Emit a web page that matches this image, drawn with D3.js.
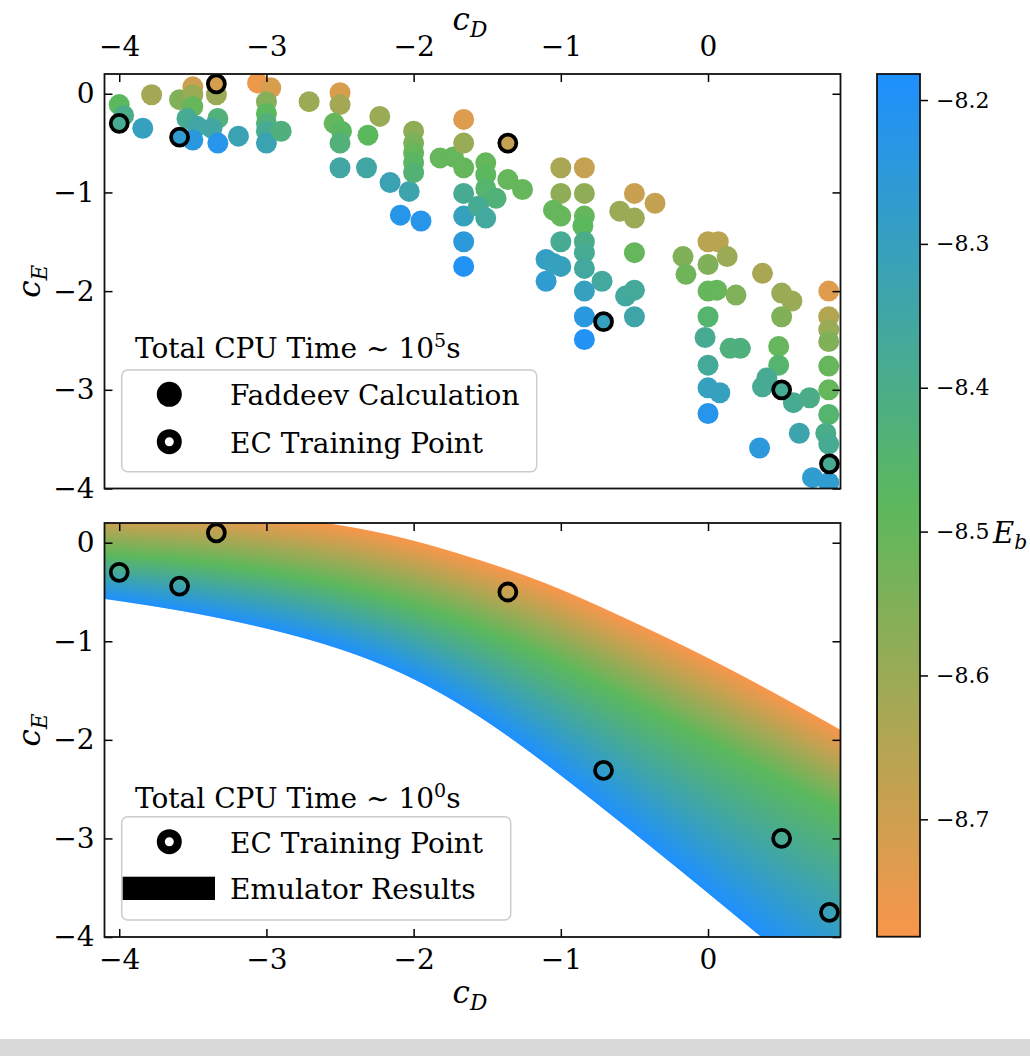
<!DOCTYPE html>
<html><head><meta charset="utf-8">
<script src="https://cdn.jsdelivr.net/npm/d3@7"></script>
<style>body{margin:0;background:#fff}</style>
</head><body>
<script>
// ---------------- data ----------------
const fadCD = [-4.00,-3.97,-3.84,-3.78,-3.59,-3.50,-3.50,-3.50,-3.54,-3.47,-3.50,-3.34,-3.33,-3.37,-3.33,-3.19,
  -3.06,-2.97,-3.00,-3.00,-3.00,-3.00,-3.00,-2.90,-2.71,-2.50,-2.50,-2.54,-2.49,-2.50,-2.50,-2.32,-2.31,-2.23,
  -2.16,-2.03,-2.09,-1.95,-2.00,-2.00,-2.00,-2.00,-2.00,-1.82,-1.73,-1.66,-1.66,-1.66,-1.66,-1.66,-1.66,-1.66,
  -1.51,-1.51,-1.51,-1.44,-1.56,-1.51,-1.36,-1.26,-1.00,-0.84,-1.00,-0.84,-1.05,-1.00,-0.84,-0.85,-1.00,-0.84,
  -1.10,-1.00,-0.84,-0.50,-0.36,-0.60,-0.50,-0.50,-0.17,0.00,0.07,0.00,0.13,0.37,-1.10,-1.05,-0.84,-0.72,-0.84,
  -0.84,-0.84,-0.56,-0.50,-0.50,-0.15,0.00,0.06,0.00,0.19,-0.02,0.15,0.22,0.00,0.00,0.08,0.00,0.50,0.57,0.50,
  0.48,0.48,0.40,0.37,0.58,0.69,0.62,0.35,0.82,0.82,0.82,0.82,0.82,0.82,0.82,0.80,0.82,0.71,0.82];
const fadCE = [-0.11,-0.22,-0.35,-0.01,-0.06,0.07,-0.01,-0.13,-0.25,-0.33,-0.47,-0.01,-0.25,-0.35,-0.50,-0.43,
  0.11,0.06,-0.08,-0.20,-0.30,-0.38,-0.50,-0.38,-0.08,0.01,-0.11,-0.30,-0.38,-0.50,-0.75,-0.75,-0.42,-0.23,
  -0.90,-0.99,-1.23,-1.29,-0.38,-0.50,-0.60,-0.70,-0.80,-0.65,-0.64,-0.26,-0.50,-0.75,-1.01,-1.24,-1.50,-1.75,
  -0.70,-0.82,-0.96,-1.06,-1.14,-1.26,-0.87,-0.97,-0.75,-0.75,-1.01,-1.01,-1.18,-1.24,-1.24,-1.34,-1.50,-1.50,
  -1.68,-1.75,-1.61,-1.01,-1.11,-1.19,-1.26,-1.61,-1.65,-1.50,-1.50,-1.73,-1.65,-1.82,-1.90,-1.72,-1.77,-1.90,-2.00,
  -2.26,-2.49,-2.05,-1.99,-2.26,-1.83,-2.00,-1.99,-2.26,-2.04,-2.47,-2.58,-2.58,-2.75,-2.98,-3.03,-3.24,-2.02,-2.10,-2.26,
  -2.56,-2.75,-2.88,-2.97,-3.13,-3.08,-3.44,-3.59,-2.00,-2.26,-2.39,-2.51,-2.76,-3.00,-3.25,-3.44,-3.55,-3.89,-3.94];
const fadEb = [-8.48,-8.40,-8.30,-8.62,-8.55,-8.70,-8.60,-8.50,-8.38,-8.35,-8.24,-8.60,-8.43,-8.35,-8.22,-8.32,
  -8.76,-8.72,-8.56,-8.48,-8.43,-8.38,-8.32,-8.42,-8.60,-8.72,-8.62,-8.50,-8.47,-8.43,-8.35,-8.35,-8.48,-8.60,
  -8.32,-8.33,-8.22,-8.22,-8.58,-8.54,-8.50,-8.47,-8.44,-8.50,-8.50,-8.73,-8.60,-8.50,-8.38,-8.30,-8.25,-8.20,
  -8.50,-8.48,-8.45,-8.43,-8.38,-8.36,-8.50,-8.50,-8.63,-8.68,-8.58,-8.58,-8.50,-8.50,-8.50,-8.48,-8.38,-8.40,
  -8.29,-8.31,-8.38,-8.69,-8.68,-8.60,-8.60,-8.50,-8.55,-8.66,-8.66,-8.55,-8.60,-8.63,-8.27,-8.30,-8.36,-8.36,-8.30,
  -8.24,-8.20,-8.36,-8.37,-8.34,-8.52,-8.50,-8.50,-8.45,-8.55,-8.38,-8.42,-8.42,-8.37,-8.30,-8.30,-8.22,-8.60,-8.60,-8.55,
  -8.50,-8.45,-8.38,-8.38,-8.38,-8.40,-8.33,-8.25,-8.73,-8.65,-8.60,-8.55,-8.50,-8.50,-8.45,-8.40,-8.38,-8.27,-8.27];

const ecCD = [-4.00,-3.59,-3.34,-1.36,-0.71,0.50,0.825];
const ecCE = [-0.30,-0.44,0.10,-0.50,-2.31,-3.00,-3.75];
const ecEb = [-8.38,-8.27,-8.71,-8.68,-8.30,-8.38,-8.38];

// emulator band: cE where E_b = min (upper edge), mid (green), max (lower edge)
const emuCD    = [-4.1,-3.6,-3.1,-2.6,-2.1,-1.6,-1.1,-0.6,-0.1,0.4,0.9];
const emuUpper = [0.35,0.335,0.29,0.21,0.07,-0.15,-0.40,-0.74,-1.09,-1.48,-1.90];
const emuMid   = [-0.12,-0.17,-0.26,-0.39,-0.58,-0.83,-1.15,-1.54,-1.94,-2.33,-2.72];
const emuLower = [-0.57,-0.68,-0.83,-1.02,-1.29,-1.70,-2.24,-2.83,-3.43,-4.05,-4.65];

const xTicks = [-4,-3,-2,-1,0];
const yTicks = [0,-1,-2,-3,-4];
const cbTicks = [-8.2,-8.3,-8.4,-8.5,-8.6,-8.7];
const ebRange = [-8.7816,-8.1819];
const cmapColors = ["#f9964b","#5cb85c","#1e90ff"];

// ---------------- layout ----------------
const W=1030,H=1056;
const serif="'DejaVu Serif','Liberation Serif',serif";
const L=104.5,R=840.5;
const topP={t:74,b:488.5}, botP={t:523,b:937};
const cb={x0:877,x1:920,t:74,b:936.7};

const svg=d3.select("body").append("svg").attr("width",W).attr("height",H)
  .style("font-family",serif);
svg.append("rect").attr("width",W).attr("height",H).attr("fill","#fff");
svg.append("rect").attr("x",0).attr("y",1039).attr("width",W).attr("height",H-1039).attr("fill","#d9d9d9");

const x=d3.scaleLinear().domain([-4.1,0.9]).range([L,R]);
const yT=d3.scaleLinear().domain([-4,0.2]).range([topP.b,topP.t]);
const yB=d3.scaleLinear().domain([-4,0.2]).range([botP.b,botP.t]);
const ebMid=(ebRange[0]+ebRange[1])/2;
const color=d3.scaleLinear().domain([ebRange[0],ebMid,ebRange[1]]).range(cmapColors).clamp(true);
const cbY=d3.scaleLinear().domain(ebRange).range([cb.b,cb.t]);

const defs=svg.append("defs");
defs.append("clipPath").attr("id","clipTop").append("rect")
  .attr("x",L).attr("y",topP.t).attr("width",R-L).attr("height",topP.b-topP.t);
defs.append("clipPath").attr("id","clipBot").append("rect")
  .attr("x",L).attr("y",botP.t).attr("width",R-L).attr("height",botP.b-botP.t);

// ---------------- top panel ----------------
const gTop=svg.append("g").attr("clip-path","url(#clipTop)");
const fad=fadCD.map((d,i)=>({cd:d,ce:fadCE[i],eb:fadEb[i]}));
gTop.selectAll("circle.f").data(fad).join("circle").attr("class","f")
  .attr("cx",d=>x(d.cd)).attr("cy",d=>yT(d.ce)).attr("r",10.5)
  .attr("fill",d=>color(d.eb));
const ec=ecCD.map((d,i)=>({cd:d,ce:ecCE[i],eb:ecEb[i]}));
gTop.selectAll("circle.e").data(ec).join("circle").attr("class","e")
  .attr("cx",d=>x(d.cd)).attr("cy",d=>yT(d.ce)).attr("r",8.5)
  .attr("fill",d=>color(d.eb)).attr("stroke","#000").attr("stroke-width",3.8);

// ---------------- bottom panel (emulator band) ----------------
const tS=d3.scaleLinear().domain([emuCD[0],emuCD[emuCD.length-1]]).range([0,1]);
const uI=d3.interpolateBasis(emuUpper), mI=d3.interpolateBasis(emuMid), lI=d3.interpolateBasis(emuLower);
const cols=d3.range(Math.floor(L),Math.ceil(R),1).map(px=>{
  const t=tS(x.invert(px+0.5));
  return {px,u:uI(t),m:mI(t),l:lI(t)};
});
const gBot=svg.append("g").attr("clip-path","url(#clipBot)");
cols.forEach((c,i)=>{
  const g=defs.append("linearGradient").attr("id","eg"+i).attr("gradientUnits","userSpaceOnUse")
    .attr("x1",0).attr("x2",0).attr("y1",yB(c.u)).attr("y2",yB(c.l));
  g.append("stop").attr("offset",0).attr("stop-color",cmapColors[0]);
  g.append("stop").attr("offset",(c.u-c.m)/(c.u-c.l)).attr("stop-color",cmapColors[1]);
  g.append("stop").attr("offset",1).attr("stop-color",cmapColors[2]);
});
gBot.selectAll("rect.col").data(cols).join("rect").attr("class","col")
  .attr("x",d=>d.px).attr("width",1.3)
  .attr("y",d=>yB(d.u)).attr("height",d=>yB(d.l)-yB(d.u))
  .attr("fill",(d,i)=>`url(#eg${i})`);
gBot.selectAll("circle.e").data(ec).join("circle").attr("class","e")
  .attr("cx",d=>x(d.cd)).attr("cy",d=>yB(d.ce)).attr("r",8.5)
  .attr("fill","none").attr("stroke","#000").attr("stroke-width",3.8);

// ---------------- axes ----------------
const intFmt=d3.format("d");
function styleAxis(g,fs){
  g.select(".domain").remove();
  g.selectAll(".tick line").attr("stroke","#000").attr("stroke-width",1.5);
  g.selectAll(".tick text").attr("fill","#000").style("font-family",serif).style("font-size",fs+"px");
}
const fsTick=28;
// top panel
styleAxis(svg.append("g").attr("transform",`translate(0,${topP.t})`)
  .call(d3.axisTop(x).tickValues(xTicks).tickSize(-8).tickPadding(18).tickFormat(intFmt)),fsTick);
styleAxis(svg.append("g").attr("transform",`translate(${L},0)`)
  .call(d3.axisLeft(yT).tickValues(yTicks).tickSize(-8).tickPadding(10).tickFormat(intFmt)),fsTick);
styleAxis(svg.append("g").attr("transform",`translate(${R},0)`)
  .call(d3.axisRight(yT).tickValues(yTicks).tickSize(-8).tickFormat("")),fsTick);
// bottom panel
styleAxis(svg.append("g").attr("transform",`translate(0,${botP.b})`)
  .call(d3.axisBottom(x).tickValues(xTicks).tickSize(-8).tickPadding(12).tickFormat(intFmt)),fsTick);
styleAxis(svg.append("g").attr("transform",`translate(0,${botP.t})`)
  .call(d3.axisTop(x).tickValues(xTicks).tickSize(-8).tickFormat("")),fsTick);
styleAxis(svg.append("g").attr("transform",`translate(${L},0)`)
  .call(d3.axisLeft(yB).tickValues(yTicks).tickSize(-8).tickPadding(10).tickFormat(intFmt)),fsTick);
styleAxis(svg.append("g").attr("transform",`translate(${R},0)`)
  .call(d3.axisRight(yB).tickValues(yTicks).tickSize(-8).tickFormat("")),fsTick);

// frames
[topP,botP].forEach(p=>svg.append("rect").attr("x",L).attr("y",p.t).attr("width",R-L).attr("height",p.b-p.t)
  .attr("fill","none").attr("stroke","#111").attr("stroke-width",1.8));

// ---------------- colorbar ----------------
const cg=defs.append("linearGradient").attr("id","cbg").attr("x1",0).attr("x2",0).attr("y1",1).attr("y2",0);
cmapColors.forEach((c,i)=>cg.append("stop").attr("offset",i/2).attr("stop-color",c));
svg.append("rect").attr("x",cb.x0).attr("y",cb.t).attr("width",cb.x1-cb.x0).attr("height",cb.b-cb.t)
  .attr("fill","url(#cbg)").attr("stroke","#111").attr("stroke-width",1.8);
styleAxis(svg.append("g").attr("transform",`translate(${cb.x1},0)`)
  .call(d3.axisRight(cbY).tickValues(cbTicks).tickSize(8).tickPadding(8).tickFormat(d3.format(".1f"))),22);

// ---------------- labels ----------------
function subLabel(sel,main,sub,fs){
  sel.append("tspan").text(main).style("font-style","italic").style("font-size",fs+"px");
  sel.append("tspan").text(sub).style("font-style","italic").style("font-size",(fs*0.7)+"px").attr("dy",fs*0.22);
}
subLabel(svg.append("text").attr("x",470).attr("y",30).attr("text-anchor","middle"),"c","D",31);
subLabel(svg.append("text").attr("x",470).attr("y",1003).attr("text-anchor","middle"),"c","D",31);
subLabel(svg.append("text").attr("transform",`translate(40,${(topP.t+topP.b)/2}) rotate(-90)`).attr("text-anchor","middle"),"c","E",31);
subLabel(svg.append("text").attr("transform",`translate(40,${(botP.t+botP.b)/2}) rotate(-90)`).attr("text-anchor","middle"),"c","E",31);
subLabel(svg.append("text").attr("x",993).attr("y",543),"E","b",29);

// ---------------- legends ----------------
const fsLeg=28;
function title(y,exp){
  const t=svg.append("text").attr("x",135).attr("y",y).style("font-size",fsLeg+"px");
  t.append("tspan").text("Total CPU Time \u223C 10");
  t.append("tspan").text(exp).style("font-size","19px").attr("dy",-11);
  t.append("tspan").text("s").attr("dy",11);
}
function box(x0,y0,w,h){
  svg.append("rect").attr("x",x0).attr("y",y0).attr("width",w).attr("height",h).attr("rx",6)
    .attr("fill","#fff").attr("fill-opacity",0.85).attr("stroke","#cccccc").attr("stroke-width",1.5);
}
function ring(cx,cy){
  svg.append("circle").attr("cx",cx).attr("cy",cy).attr("r",8.5).attr("fill","#fff")
    .attr("stroke","#000").attr("stroke-width",8);
}
function ltext(y,s){svg.append("text").attr("x",230).attr("y",y).style("font-size",fsLeg+"px").text(s);}

title(358,"5");
box(121.7,370,415,101.7);
svg.append("circle").attr("cx",169.3).attr("cy",394.3).attr("r",12.5).attr("fill","#000");
ltext(405,"Faddeev Calculation");
ring(169.3,441.7);
ltext(452.7,"EC Training Point");

title(808,"0");
box(121.7,816.7,389,103.3);
ring(169.3,841.7);
ltext(853,"EC Training Point");
svg.append("rect").attr("x",122.7).attr("y",876.7).attr("width",92.3).attr("height",23.3).attr("fill","#000");
ltext(899,"Emulator Results");
</script>
</body></html>
